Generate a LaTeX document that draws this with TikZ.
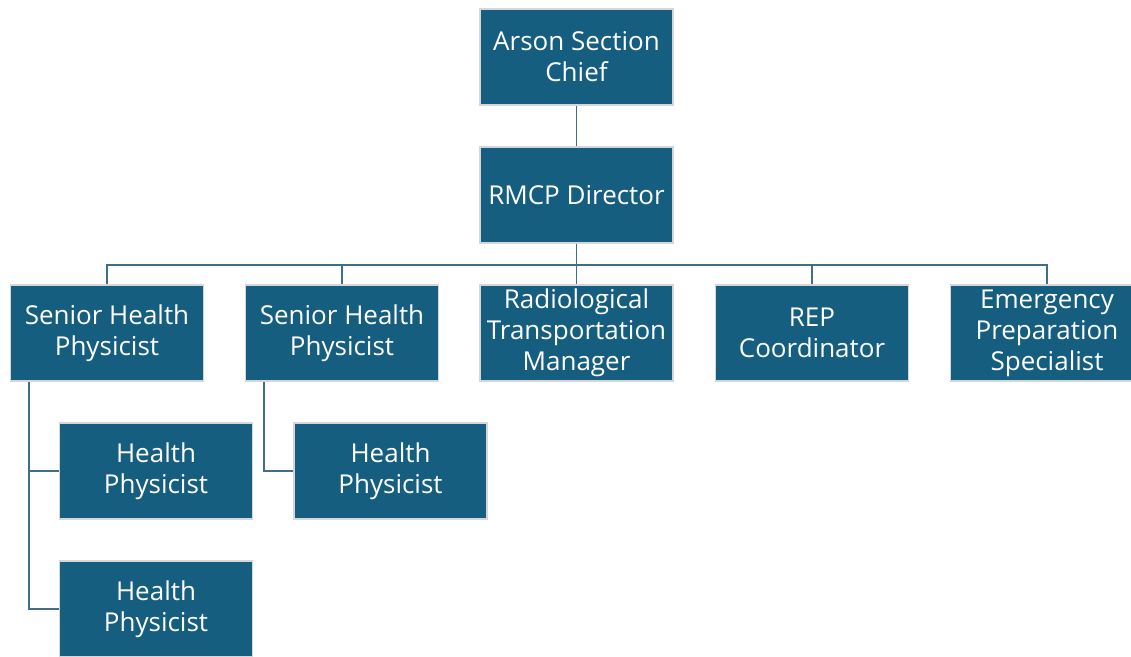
\documentclass[tikz,border=0pt]{standalone}
\usepackage{fontspec}
\setmainfont{Open Sans}
\usepackage{xcolor}
\usepackage{tikz}
\usetikzlibrary{calc,positioning}
\definecolor{boxc}{HTML}{155E7F}
\definecolor{edgec}{HTML}{D3D7DA}
\definecolor{linkc}{HTML}{3F6E86}
\tikzset{
  post/.style={draw=edgec,line width=0.9pt,fill=boxc,text=white,align=center,
    minimum width=3.86cm,minimum height=1.92cm,inner sep=2pt,
    font=\fontsize{14.8}{17.6}\selectfont},
  link/.style={linkc,line width=1.1pt}
}
\begin{document}
\begin{tikzpicture}[x=0.02cm,y=-0.02cm]
\useasboundingbox (0,0) rectangle (1131,656);
% top of the chart
\node[post] (chief) at (576.5,57) {Arson Section\\Chief};
\node[post] (dir) at (576.5,195) {RMCP Director};
% second row
\node[post] (shp1) at (107,333) {Senior Health\\Physicist};
\node[post] (shp2) at (342,333) {Senior Health\\Physicist};
\node[post] (rtm) at (576.5,333) {Radiological\\Transportation\\Manager};
\node[post] (rep) at (812,333) {REP\\Coordinator};
\node[post] (eps) at (1047,333) {Emergency\\Preparation\\Specialist};
% health physicists
\node[post] (hp1) at (156,471) {Health\\Physicist};
\node[post] (hp2) at (156,609) {Health\\Physicist};
\node[post] (hp3) at (390.5,471) {Health\\Physicist};
% connectors
\coordinate (bus) at (576.5,265);
\coordinate (tap1) at ([xshift=19*0.02cm]shp1.south west);
\coordinate (tap2) at ([xshift=19*0.02cm]shp2.south west);
\draw[link] (chief.south) -- (dir.north);
\draw[link] (dir.south) -- (bus);
\foreach \n in {shp1,shp2,rtm,rep,eps}
  \draw[link] (bus) -| (\n.north);
\draw[link] (tap1) |- (hp1.west);
\draw[link] (tap1) |- (hp2.west);
\draw[link] (tap2) |- (hp3.west);
\end{tikzpicture}
\end{document}
